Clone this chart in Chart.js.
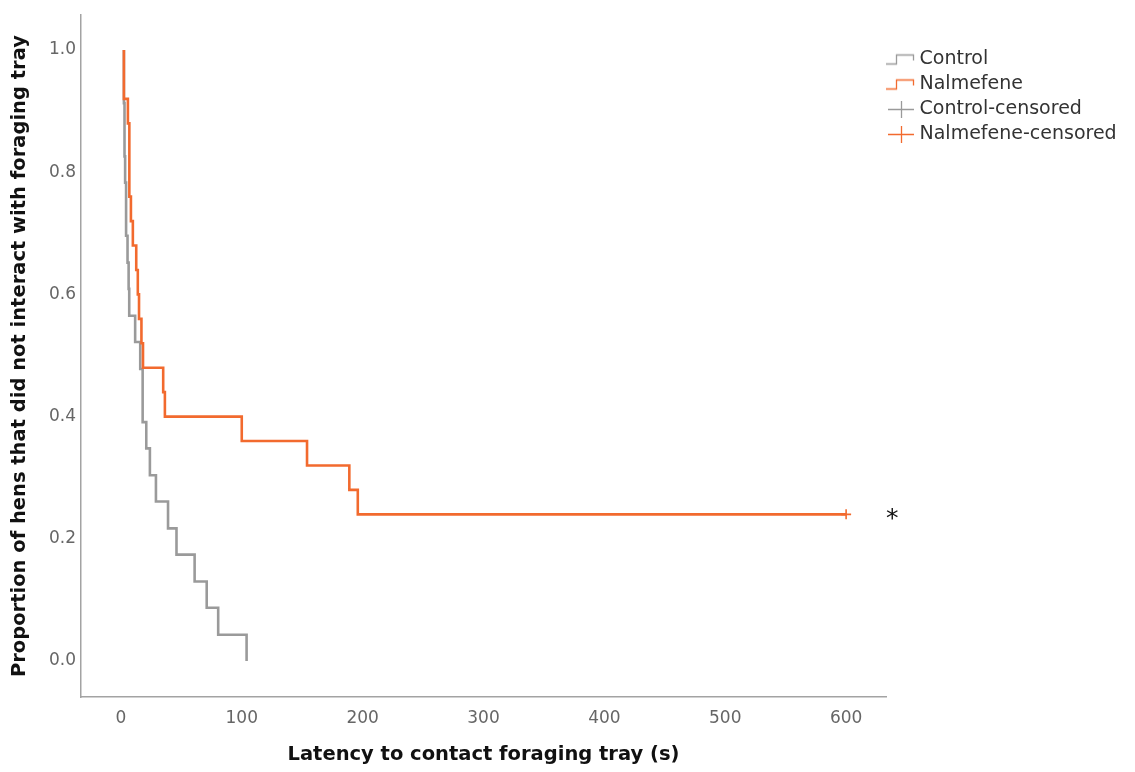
<!DOCTYPE html>
<html>
<head>
<meta charset="utf-8">
<script src="https://cdn.jsdelivr.net/npm/chart.js@4.4.1/dist/chart.umd.min.js"></script>
<style>
  html, body { margin: 0; padding: 0; background: #ffffff; }
  #wrap { width: 1135px; height: 772px; }
</style>
</head>
<body>
<div id="wrap"><canvas id="kmChart" width="1135" height="772"></canvas></div>
<script>
// Kaplan-Meier steps: time of event (s) and proportion remaining after it
const controlTimes = [2.5, 2.5, 3.0, 3.5, 4.3, 5.5, 6.4, 6.9, 11.8, 16, 18, 21, 24, 29, 39, 46, 61, 71, 80.5, 104];
const controlSurvival = [1.0, 0.913, 0.826, 0.783, 0.696, 0.652, 0.609, 0.565, 0.522, 0.478, 0.391, 0.348, 0.304, 0.261, 0.217, 0.174, 0.130, 0.087, 0.043, 0.0];

const nalmefeneTimes = [2.5, 2.5, 5.8, 7.0, 8.3, 9.9, 12.7, 14.0, 15.0, 17.0, 18.3, 35, 36.4, 100, 154, 189, 196, 600];
const nalmefeneSurvival = [1.0, 0.92, 0.88, 0.76, 0.72, 0.68, 0.64, 0.60, 0.56, 0.52, 0.48, 0.44, 0.40, 0.36, 0.32, 0.28, 0.24, 0.24];

const controlCensoredTimes = [];
const controlCensoredSurvival = [];
const nalmefeneCensoredTimes = [600];
const nalmefeneCensoredSurvival = [0.24];

const seriesLabels = ["Control", "Nalmefene", "Control-censored", "Nalmefene-censored"];
const xTicks = [0, 100, 200, 300, 400, 500, 600];
const yTicks = [0.0, 0.2, 0.4, 0.6, 0.8, 1.0];
const xTitle = "Latency to contact foraging tray (s)";
const yTitle = "Proportion of hens that did not interact with foraging tray";
const significanceMark = "*";

const GREY = "#9a9a9a";
const ORANGE = "#f26a2e";
const AXIS = "#a3a3a3";
const TICK_FONT = "'DejaVu Sans', sans-serif";
const TITLE_FONT = "'DejaVu Sans', sans-serif";
const PLOT_RIGHT = 886;

function toPoints(xs, ys) {
  return xs.map((x, i) => ({ x: x, y: ys[i] }));
}

function stepIcon(color) {
  const c = document.createElement("canvas");
  c.width = 30;
  c.height = 14;
  const g = c.getContext("2d");
  g.strokeStyle = color;
  g.lineWidth = 1.3;
  g.beginPath();
  g.moveTo(0, 11.5);
  g.lineTo(10.5, 11.5);
  g.lineTo(10.5, 2.5);
  g.lineTo(27.5, 2.5);
  g.lineTo(27.5, 8);
  g.stroke();
  return c;
}

function crossIcon(color) {
  const c = document.createElement("canvas");
  c.width = 26;
  c.height = 17;
  const g = c.getContext("2d");
  g.strokeStyle = color;
  g.lineWidth = 1.3;
  g.beginPath();
  g.moveTo(0, 8.5);
  g.lineTo(26, 8.5);
  g.moveTo(13.5, 0);
  g.lineTo(13.5, 17);
  g.stroke();
  return c;
}

const legendIcons = [stepIcon(GREY), stepIcon(ORANGE), crossIcon(GREY), crossIcon(ORANGE)];

// asterisk next to the censored end of the nalmefene curve
const markPlugin = {
  id: "significanceMark",
  afterDatasetsDraw(chart) {
    const { ctx, chartArea, scales } = chart;
    const y = scales.y.getPixelForValue(nalmefeneCensoredSurvival[0]);
    ctx.save();
    ctx.fillStyle = "#111111";
    ctx.font = "25px " + TICK_FONT;
    ctx.textAlign = "left";
    ctx.textBaseline = "middle";
    ctx.fillText(significanceMark, chartArea.right, y + 5);
    ctx.restore();
  },
};

const ctx = document.getElementById("kmChart").getContext("2d");

const chart = new Chart(ctx, {
  type: "line",
  data: {
    datasets: [
      {
        label: seriesLabels[0],
        data: toPoints(controlTimes, controlSurvival),
        borderColor: GREY,
        backgroundColor: GREY,
        borderWidth: 2.6,
        stepped: "before",
        pointRadius: 0,
        fill: false,
        order: 2,
      },
      {
        label: seriesLabels[1],
        data: toPoints(nalmefeneTimes, nalmefeneSurvival),
        borderColor: ORANGE,
        backgroundColor: ORANGE,
        borderWidth: 2.6,
        stepped: "before",
        pointRadius: 0,
        fill: false,
        order: 1,
      },
      {
        label: seriesLabels[2],
        data: toPoints(controlCensoredTimes, controlCensoredSurvival),
        borderColor: GREY,
        backgroundColor: GREY,
        showLine: false,
        pointStyle: "cross",
        pointRadius: 5,
        pointBorderWidth: 1.6,
        order: 3,
      },
      {
        label: seriesLabels[3],
        data: toPoints(nalmefeneCensoredTimes, nalmefeneCensoredSurvival),
        borderColor: ORANGE,
        backgroundColor: ORANGE,
        showLine: false,
        pointStyle: "cross",
        pointRadius: 5,
        pointBorderWidth: 1.6,
        order: 0,
      },
    ],
  },
  options: {
    responsive: false,
    animation: false,
    events: [],
    layout: {
      padding: { top: 12, left: 0, bottom: 0, right: 20 },
    },
    scales: {
      x: {
        type: "linear",
        min: -33,
        max: 633,
        afterBuildTicks: (scale) => {
          scale.ticks = xTicks.map((v) => ({ value: v }));
        },
        afterFit: (scale) => {
          scale.height = 75;
        },
        grid: { display: false, drawTicks: false },
        border: { display: true, color: AXIS, width: 1.5 },
        ticks: {
          padding: 11,
          color: "#666666",
          font: { family: TICK_FONT, size: 17 },
          maxRotation: 0,
        },
        title: {
          display: true,
          text: xTitle,
          color: "#111111",
          font: { family: TITLE_FONT, size: 19.5, weight: "bold" },
          padding: { top: 0, bottom: 5 },
        },
      },
      y: {
        type: "linear",
        min: -0.059,
        max: 1.057,
        afterBuildTicks: (scale) => {
          scale.ticks = yTicks.map((v) => ({ value: v }));
        },
        afterFit: (scale) => {
          scale.width = 81;
        },
        grid: { display: false, drawTicks: false },
        border: { display: true, color: AXIS, width: 1.5 },
        ticks: {
          padding: 5,
          color: "#666666",
          font: { family: TICK_FONT, size: 17 },
          callback: (v) => Number(v).toFixed(1),
        },
        title: {
          display: true,
          text: yTitle,
          color: "#111111",
          font: { family: TITLE_FONT, size: 19.5, weight: "bold" },
          padding: { top: 8, bottom: 0 },
        },
      },
    },
    plugins: {
      tooltip: { enabled: false },
      legend: {
        display: true,
        position: "right",
        align: "start",
        title: {
          display: true,
          text: " ",
          font: { size: 18, lineHeight: 1 },
          padding: 7,
        },
        labels: {
          usePointStyle: true,
          pointStyleWidth: 18,
          padding: 6,
          color: "#333333",
          font: { family: TICK_FONT, size: 19 },
          sort: (a, b) => a.datasetIndex - b.datasetIndex,
          generateLabels: (ch) => {
            const items = Chart.defaults.plugins.legend.labels.generateLabels(ch);
            items.forEach((item) => {
              item.pointStyle = legendIcons[item.datasetIndex];
              item.fontColor = "#333333";
            });
            return items;
          },
        },
      },
    },
  },
  plugins: [markPlugin],
});

// pin the plot's right edge where the legend starts
const shift = chart.chartArea.right - PLOT_RIGHT;
if (Math.abs(shift) > 0.5) {
  chart.options.layout.padding.right = Math.max(0, chart.options.layout.padding.right + shift);
  chart.update("none");
}
</script>
</body>
</html>
